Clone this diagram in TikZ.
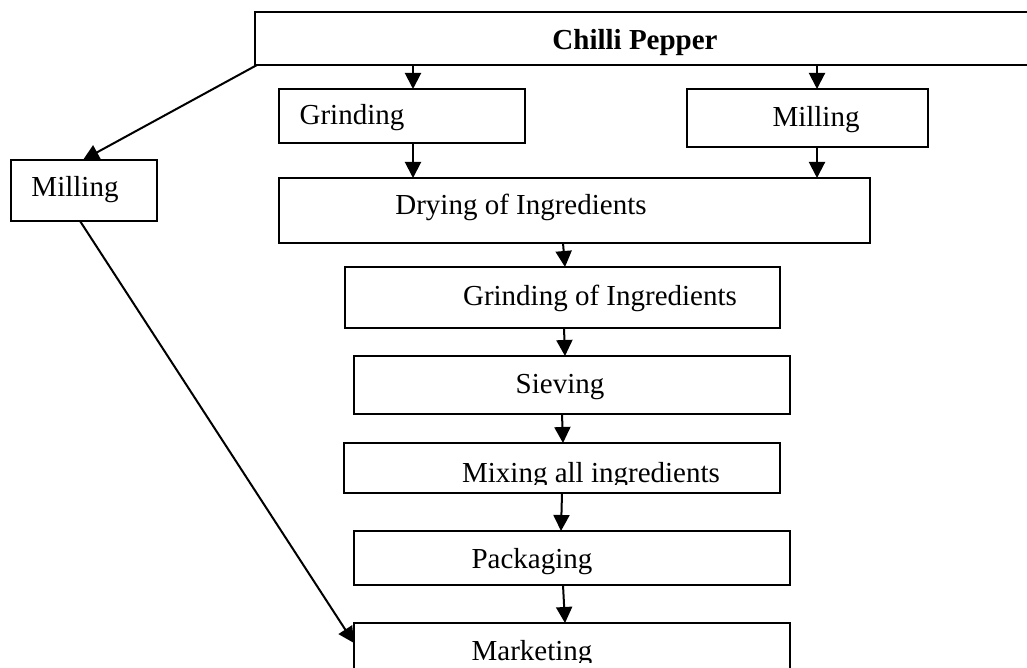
\documentclass[tikz,border=0pt]{standalone}
\usepackage{fontspec}
\setmainfont{Liberation Serif}
\usetikzlibrary{arrows.meta}
\begin{document}
\begin{tikzpicture}[x=1pt,y=-1pt,
  box/.style={draw,line width=1.3pt,rectangle,anchor=north west,inner sep=0pt,outer sep=0pt},
  txt/.style={anchor=base,inner sep=0pt,font=\fontsize{29}{34}\selectfont},
  arr/.style={line width=2pt,-{Triangle[length=16pt,width=16pt]}}]
\useasboundingbox (0,0) rectangle (1027,668);
\clip (0,0) rectangle (1027,668);
% boxes
\node[box,minimum width=785pt,minimum height=53pt] (top) at (255,12) {};
\node[box,minimum width=246pt,minimum height=54pt] (gr) at (279,89) {};
\node[box,minimum width=241pt,minimum height=58pt] (mr) at (687,89) {};
\node[box,minimum width=146pt,minimum height=61pt] (ml) at (11,160) {};
\node[box,minimum width=591pt,minimum height=65pt] (dry) at (279,178) {};
\node[box,minimum width=435pt,minimum height=61pt] (goi) at (345,267) {};
\node[box,minimum width=436pt,minimum height=58pt] (sie) at (354,356) {};
\node[box,minimum width=436pt,minimum height=50pt] (mix) at (344,443) {};
\node[box,minimum width=436pt,minimum height=54pt] (pack) at (354,531) {};
\node[box,minimum width=436pt,minimum height=77pt] (mkt) at (354,623) {};
% texts
\node[txt] (ttop) at (635,50) {\bfseries Chilli Pepper};
\node[txt] (tgr) at (352,125) {Grinding};
\node[txt] (tmr) at (816,127) {Milling};
\node[txt] (tml) at (75,197) {Milling};
\node[txt] (tdry) at (521,215) {Drying of Ingredients};
\node[txt] (tgoi) at (600,305) {Grinding of Ingredients};
\node[txt] (tsie) at (560,393) {Sieving};
\begin{scope}
\clip (300,430) rectangle (800,484);
\node[txt] (tmix) at (591,482) {Mixing all ingredients};
\end{scope}
\node[txt] (tpack) at (532,568) {Packaging};
\begin{scope}
\clip (300,600) rectangle (800,662);
\node[txt] (tmkt) at (532,660) {Marketing};
\end{scope}
% arrows
\draw[arr] ([xshift=158pt]top.south west) -- ([xshift=134pt]gr.north west);
\draw[arr] ([xshift=562pt]top.south west) -- ([xshift=130pt]mr.north west);
\draw[arr] ([xshift=2pt]top.south west) -- ([xshift=72pt]ml.north west);
\draw[arr] ([xshift=134pt]gr.south west) -- ([xshift=134pt]dry.north west);
\draw[arr] ([xshift=130pt]mr.south west) -- ([xshift=538pt]dry.north west);
\draw[arr] ([xshift=284pt]dry.south west) -- ([xshift=220pt]goi.north west);
\draw[arr] ([xshift=219pt]goi.south west) -- ([xshift=211pt]sie.north west);
\draw[arr] ([xshift=208pt]sie.south west) -- ([xshift=219pt]mix.north west);
\draw[arr] ([xshift=218pt]mix.south west) -- ([xshift=207pt]pack.north west);
\draw[arr] ([xshift=209pt]pack.south west) -- ([xshift=211pt]mkt.north west);
\draw[arr] ([xshift=69pt]ml.south west) -- ([yshift=-20pt]mkt.north west);
\end{tikzpicture}
\end{document}
